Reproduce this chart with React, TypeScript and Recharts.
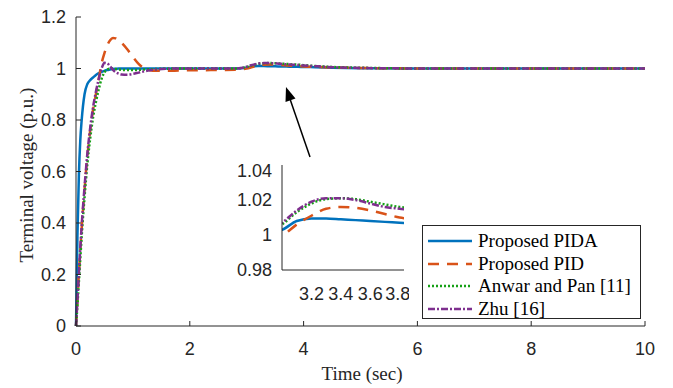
import { LineChart, Line, XAxis, YAxis } from "recharts";

// time (sec) and terminal voltage (p.u.)
const time = [
  0, 0.025, 0.05, 0.075, 0.1, 0.15, 0.2, 0.25, 0.3, 0.35, 0.4, 0.45, 0.5, 0.55, 0.6, 0.65, 0.7,
  0.75, 0.8, 0.9, 1.0, 1.1, 1.2, 1.3, 1.4, 1.6, 1.8, 2.0, 2.5, 2.8, 3.0, 3.1, 3.2, 3.3, 3.4,
  3.5, 3.6, 3.7, 3.8, 3.9, 4.0, 4.2, 4.5, 5.0, 5.5, 6, 7, 8, 9, 10,
];
const pida = [
  0, 0.35, 0.58, 0.72, 0.8, 0.9, 0.94, 0.955, 0.965, 0.975, 0.982, 0.987, 0.991, 0.994, 0.996,
  0.998, 0.999, 1.0, 1.0, 1.0, 1.0, 1.0, 1.0, 1.0, 1.0, 1.0, 1.0, 1.0, 1.0, 1.0, 1.003, 1.008,
  1.0095, 1.0095, 1.009, 1.0085, 1.008, 1.0075, 1.007, 1.0065, 1.006, 1.005, 1.003, 1.001,
  1.0005, 1.0, 1.0, 1.0, 1.0, 1.0,
];
const pid = [
  0, 0.1, 0.2, 0.29, 0.38, 0.53, 0.66, 0.76, 0.84, 0.9, 0.96, 1.02, 1.06, 1.09, 1.11, 1.118,
  1.117, 1.11, 1.1, 1.075, 1.045, 1.018, 1.0, 0.993, 0.991, 0.991, 0.992, 0.993, 0.994, 0.995,
  0.9995, 1.006, 1.011, 1.015, 1.016, 1.0155, 1.014, 1.012, 1.01, 1.009, 1.008, 1.006, 1.004,
  1.002, 1.001, 1.0, 1.0, 1.0, 1.0, 1.0,
];
const anwar = [
  0, 0.08, 0.17, 0.26, 0.35, 0.5, 0.63, 0.73, 0.81, 0.87, 0.92, 0.96, 0.985, 0.996, 1.0, 1.0,
  0.998, 0.996, 0.995, 0.994, 0.994, 0.995, 0.996, 0.997, 0.998, 0.999, 1.0, 1.0, 1.0, 1.0,
  1.006, 1.013, 1.018, 1.0205, 1.021, 1.0205, 1.019, 1.0175, 1.016, 1.015, 1.013, 1.01, 1.006,
  1.003, 1.001, 1.0, 1.0, 1.0, 1.0, 1.0,
];
const zhu = [
  0, 0.1, 0.2, 0.3, 0.39, 0.54, 0.67, 0.77, 0.85, 0.91, 0.96, 1.0, 1.022, 1.02, 1.008, 0.995,
  0.985, 0.98, 0.977, 0.976, 0.979, 0.984, 0.989, 0.993, 0.996, 0.999, 1.0, 1.0, 1.0, 1.0,
  1.007, 1.014, 1.019, 1.021, 1.021, 1.02, 1.018, 1.016, 1.015, 1.014, 1.012, 1.009, 1.005,
  1.002, 1.001, 1.0, 1.0, 1.0, 1.0, 1.0,
];

const xTicks = [0, 2, 4, 6, 8, 10];
const yTicks = [0, 0.2, 0.4, 0.6, 0.8, 1, 1.2];
const insetXTicks = [3.2, 3.4, 3.6, 3.8];
const insetYTicks = [0.98, 1, 1.02, 1.04];

const rows = time.map((t, i) => ({ t, pida: pida[i], pid: pid[i], anwar: anwar[i], zhu: zhu[i] }));
const insetRows = rows.filter((r) => r.t >= 2.8 && r.t <= 4.0);

const series = [
  { key: "pida", name: "Proposed PIDA", color: "#0072BD", dash: undefined as string | undefined },
  { key: "pid", name: "Proposed PID", color: "#D95319", dash: "11 8" },
  { key: "anwar", name: "Anwar and Pan [11]", color: "#16a016", dash: "2 2" },
  { key: "zhu", name: "Zhu [16]", color: "#7E2F8E", dash: "7 2 2 2" },
];

const AX = "#262626";
const SANS = "'Liberation Sans', Arial, sans-serif";
const SERIF = "'Liberation Serif', 'Times New Roman', serif";
const tickFont = { fontSize: 18, fill: AX, fontFamily: SANS };
const blank = () => "";

export default function App() {
  return (
    <div style={{ position: "absolute", left: 0, top: 0, width: 673, height: 388, background: "#fff" }}>
      <LineChart
        width={673}
        height={388}
        data={rows}
        margin={{ top: 17, right: 28, bottom: 0, left: 0 }}
        style={{ position: "absolute", left: 0, top: 0 }}
      >
        <XAxis
          dataKey="t"
          type="number"
          domain={[0, 10]}
          ticks={xTicks}
          height={62}
          stroke={AX}
          tick={tickFont}
          tickSize={-5}
          tickMargin={21}
        />
        <XAxis
          xAxisId="top"
          orientation="top"
          dataKey="t"
          type="number"
          domain={[0, 10]}
          ticks={xTicks}
          height={0}
          stroke={AX}
          tick={false}
          tickSize={-5}
          tickFormatter={blank}
        />
        <YAxis
          type="number"
          domain={[0, 1.2]}
          ticks={yTicks}
          width={76}
          stroke={AX}
          tick={tickFont}
          tickSize={-5}
          tickMargin={15}
        />
        <YAxis
          yAxisId="r"
          orientation="right"
          type="number"
          domain={[0, 1.2]}
          ticks={yTicks}
          width={0}
          stroke={AX}
          tick={false}
          tickSize={-5}
          tickFormatter={blank}
        />
        {series.map((s) => (
          <Line
            key={s.key}
            dataKey={s.key}
            name={s.name}
            type="monotone"
            stroke={s.color}
            strokeWidth={2.5}
            strokeDasharray={s.dash}
            dot={false}
            activeDot={false}
            isAnimationActive={false}
          />
        ))}
      </LineChart>

      {/* zoomed inset around t = 3..3.8 */}
      <LineChart
        width={187}
        height={150}
        data={insetRows}
        margin={{ top: 5, right: 5, bottom: 0, left: 0 }}
        style={{ position: "absolute", left: 222, top: 160 }}
      >
        <XAxis
          dataKey="t"
          type="number"
          domain={[3, 3.83]}
          allowDataOverflow
          ticks={insetXTicks}
          height={40}
          stroke={AX}
          tick={tickFont}
          tickLine={false}
          tickSize={0}
          tickMargin={17}
        />
        <XAxis
          xAxisId="top"
          orientation="top"
          dataKey="t"
          type="number"
          domain={[3, 3.83]}
          allowDataOverflow
          height={0}
          stroke={AX}
          tick={false}
          tickLine={false}
        />
        <YAxis
          type="number"
          domain={[0.98, 1.04]}
          allowDataOverflow
          ticks={insetYTicks}
          width={60}
          stroke={AX}
          tick={tickFont}
          tickLine={false}
          tickSize={0}
          tickMargin={10}
        />
        <YAxis
          yAxisId="r"
          orientation="right"
          type="number"
          domain={[0.98, 1.04]}
          allowDataOverflow
          width={0}
          stroke={AX}
          tick={false}
          tickLine={false}
        />
        {series.map((s) => (
          <Line
            key={s.key}
            dataKey={s.key}
            type="monotone"
            stroke={s.color}
            strokeWidth={2.5}
            strokeDasharray={s.dash}
            dot={false}
            activeDot={false}
            isAnimationActive={false}
          />
        ))}
      </LineChart>

      {/* arrow pointing from the inset to the bump */}
      <svg width={673} height={388} style={{ position: "absolute", left: 0, top: 0, pointerEvents: "none" }}>
        <line x1={310} y1={157} x2={290} y2={99} stroke="#000" strokeWidth={1.5} />
        <polygon points="286,87 295.5,98.5 285.5,102" fill="#000" />
      </svg>

      {/* legend */}
      <div
        style={{
          position: "absolute",
          left: 422,
          top: 225,
          width: 219,
          height: 94,
          border: `1px solid ${AX}`,
          background: "#fff",
          paddingTop: 4,
          boxSizing: "border-box",
          fontFamily: SERIF,
          fontSize: 19,
          color: "#000",
        }}
      >
        {series.map((s) => (
          <div key={s.key} style={{ display: "flex", alignItems: "center", height: 22.5, whiteSpace: "nowrap" }}>
            <svg width={44} height={6} style={{ marginLeft: 5, marginRight: 6 }}>
              <line x1={0} y1={3} x2={44} y2={3} stroke={s.color} strokeWidth={2.5} strokeDasharray={s.dash} />
            </svg>
            <span>{s.name}</span>
          </div>
        ))}
      </div>

      {/* axis titles */}
      <div
        style={{
          position: "absolute",
          left: 27,
          top: 175,
          transform: "translate(-50%, -50%) rotate(-90deg)",
          whiteSpace: "nowrap",
          fontFamily: SERIF,
          fontSize: 19,
          color: AX,
        }}
      >
        Terminal voltage (p.u.)
      </div>
      <div
        style={{
          position: "absolute",
          left: 362,
          top: 374,
          transform: "translate(-50%, -50%)",
          whiteSpace: "nowrap",
          fontFamily: SERIF,
          fontSize: 19,
          color: AX,
        }}
      >
        Time (sec)
      </div>
    </div>
  );
}
